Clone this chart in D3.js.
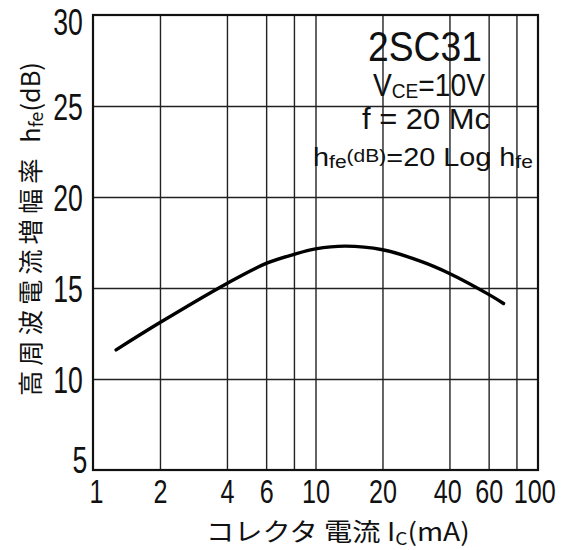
<!DOCTYPE html>
<html>
<head>
<meta charset="utf-8">
<script src="https://cdn.jsdelivr.net/npm/d3@7/dist/d3.min.js"></script>
<style>
  body { margin: 0; background: #fff; }
  svg { display: block; }
  .num { font-family: "Liberation Sans", Arial, sans-serif; fill: #111; }
  .jp { font-family: "Noto Sans CJK JP", sans-serif; fill: #111; }
</style>
</head>
<body>
<div id="chart"></div>
<script>
var ic = [1.27, 2, 4, 6, 8, 10, 13.6, 20, 30, 40, 60, 70];
var hfeDb = [11.6, 13.1, 15.25, 16.35, 16.85, 17.15, 17.3, 17.1, 16.45, 15.8, 14.65, 14.15];

var xTicks = [1, 2, 4, 6, 10, 20, 40, 60, 100];
var xGrid = [2, 4, 6, 8, 10, 20, 40, 60, 80];
var yTicks = [5, 10, 15, 20, 25, 30];
var yGrid = [10, 15, 20, 25];

var margin = { top: 15, right: 27, bottom: 80, left: 93 };
var width = 565 - margin.left - margin.right;
var height = 550 - margin.top - margin.bottom;

var svg = d3.select("#chart")
  .append("svg")
  .attr("width", 565)
  .attr("height", 550);

var g = svg.append("g")
  .attr("transform", "translate(" + margin.left + "," + margin.top + ")");

var x = d3.scaleLog().domain([1, 100]).range([0, width]);
var y = d3.scaleLinear().domain([5, 30]).range([height, 0]);

// squeeze a text horizontally to a given width
function fit(sel, tx, ty, w, rot) {
  var n = sel.node().getComputedTextLength();
  sel.attr("transform", "translate(" + tx + "," + ty + ")" + (rot ? " rotate(" + rot + ")" : "") + " scale(" + (w / n) + ",1)");
}

// grid
g.append("g")
  .call(d3.axisBottom(x).tickValues(xGrid).tickSize(height).tickFormat(""))
  .call(function(s) { s.select(".domain").remove(); })
  .selectAll("line")
  .attr("stroke", "#222")
  .attr("stroke-width", 1.4);

g.append("g")
  .call(d3.axisLeft(y).tickValues(yGrid).tickSize(-width).tickFormat(""))
  .call(function(s) { s.select(".domain").remove(); })
  .selectAll("line")
  .attr("stroke", "#222")
  .attr("stroke-width", 1.6);

g.append("rect")
  .attr("width", width)
  .attr("height", height)
  .attr("fill", "none")
  .attr("stroke", "#111")
  .attr("stroke-width", 2.2);

// tick labels, squeezed like the print
var xAxis = g.append("g")
  .attr("transform", "translate(0," + height + ")")
  .call(d3.axisBottom(x).tickValues(xTicks).tickSize(0).tickPadding(8).tickFormat(d3.format("d")));
xAxis.select(".domain").remove();
xAxis.selectAll("text")
  .attr("class", "num")
  .style("font-size", "34px")
  .attr("fill", "#111")
  .attr("transform", "scale(0.74,1)")
  .attr("x", function(d) { return d == 1 ? 4 : d == 100 ? -5 : d == 40 ? -3 : 0; })
  .attr("dy", "0.73em");

var yAxis = g.append("g")
  .call(d3.axisLeft(y).tickValues(yTicks).tickSize(0));
yAxis.select(".domain").remove();
yAxis.selectAll("text")
  .attr("class", "num")
  .style("font-size", "37px")
  .attr("fill", "#111")
  .attr("transform", "scale(0.72,1)")
  .attr("x", function(d) { return d == 5 ? -8 : -14; })
  .attr("dy", function(d) { return d == 30 ? "0.53em" : d == 5 ? "0.08em" : "0.36em"; });

// curve
var line = d3.line()
  .x(function(d, i) { return x(ic[i]); })
  .y(function(d) { return y(d); })
  .curve(d3.curveCatmullRom);

g.append("path")
  .datum(hfeDb)
  .attr("d", line)
  .attr("fill", "none")
  .attr("stroke", "#000")
  .attr("stroke-width", 3.4)
  .attr("stroke-linecap", "round");

// annotations
var ann = svg.append("g").attr("class", "num");
var t1 = ann.append("text")
  .style("font-size", "42px")
  .text("2SC31");
fit(t1, 368, 61, 114);

var vce = ann.append("text")
  .style("font-size", "31px");
vce.append("tspan").text("V");
vce.append("tspan").style("font-size", "21px").attr("dy", 2).text("CE");
vce.append("tspan").attr("dy", -2).text("=10V");
fit(vce, 373, 96, 112);

var f = ann.append("text")
  .style("font-size", "30px")
  .text("f = 20 Mc");
fit(f, 362, 129, 128);

var hl = ann.append("text")
  .style("font-size", "26px");
hl.append("tspan").text("h");
hl.append("tspan").style("font-size", "19px").attr("dy", 2).text("fe");
hl.append("tspan").style("font-size", "19px").attr("dy", -6).text("(dB)");
hl.append("tspan").attr("dy", 4).text("=20 Log h");
hl.append("tspan").style("font-size", "19px").attr("dy", 2).text("fe");
fit(hl, 313, 166, 220);

// axis titles
var yt = svg.append("text")
  .attr("class", "jp")
  .style("font-size", "25px");
yt.append("tspan").style("letter-spacing", "5px").text("高周波電流増幅率 ");
yt.append("tspan").text("h");
yt.append("tspan").style("font-size", "18px").attr("dy", 3).text("fe");
yt.append("tspan").attr("dy", -3).text("(dB)");
fit(yt, 40, 396, 334, -90);

var xt = svg.append("text")
  .attr("class", "jp")
  .style("font-size", "25px");
xt.append("tspan").text("コレクタ 電流 I");
xt.append("tspan").style("font-size", "17px").attr("dy", 4).text("C");
xt.append("tspan").attr("dy", -4).text("(mA)");
fit(xt, 206, 541, 264);
</script>
</body>
</html>
